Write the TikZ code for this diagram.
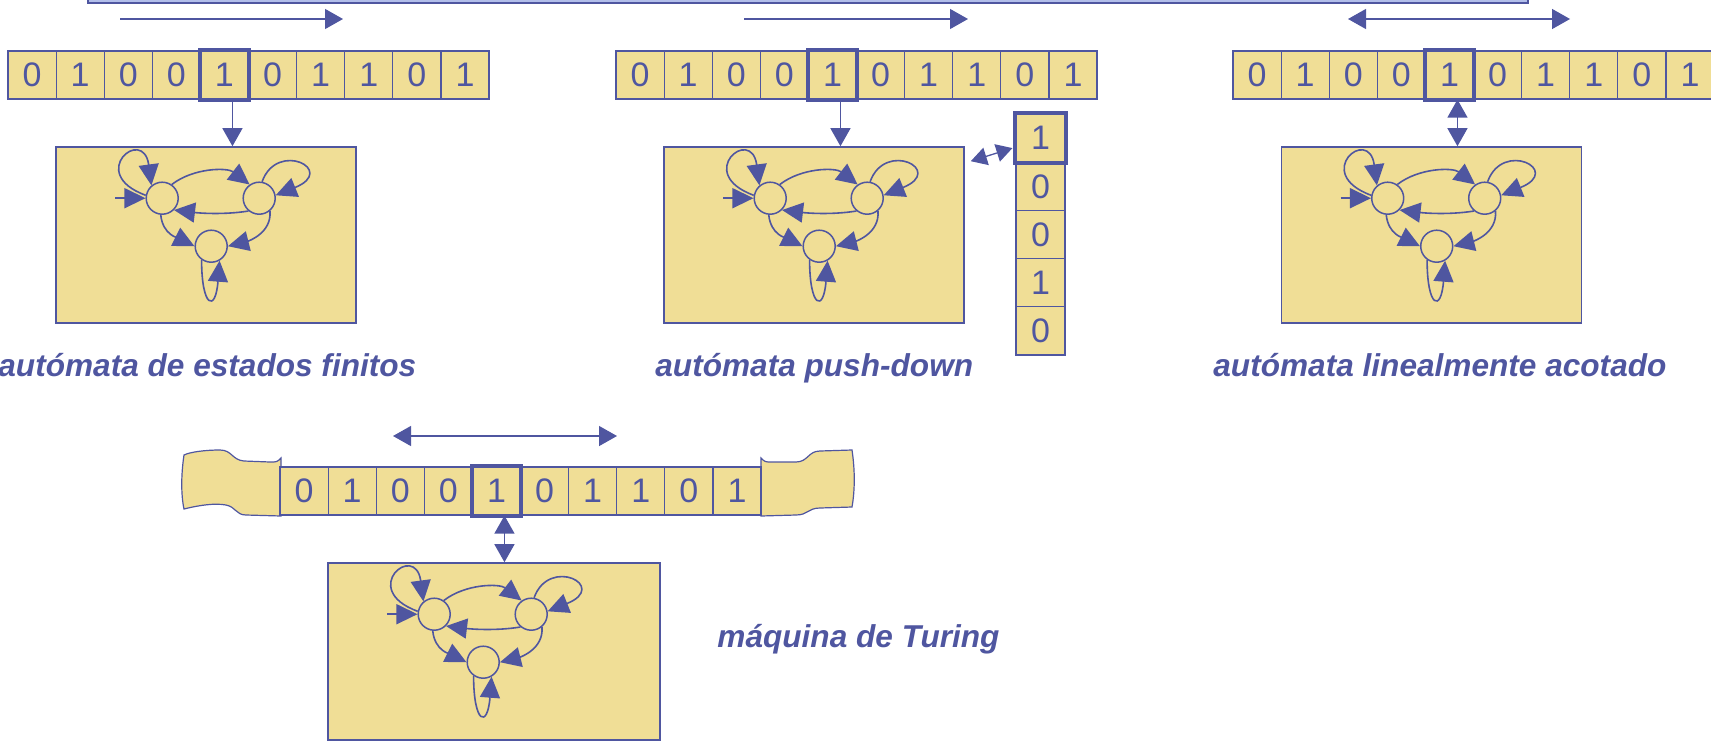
\documentclass[tikz,border=0pt]{standalone}
\usepackage{fontspec}
\setmainfont{Liberation Sans}
\usetikzlibrary{arrows.meta}

\definecolor{ink}{RGB}{79,86,160}
\definecolor{tapefill}{RGB}{240,222,150}
\definecolor{bandfill}{RGB}{178,190,234}

\tikzset{
  cell/.style={draw=ink, fill=tapefill, line width=0.6pt, minimum width=24.05pt, minimum height=24pt,
    inner sep=0pt, text=ink, font=\fontsize{17}{18}\selectfont},
  headbox/.style={draw=ink, line width=2pt},
  ctrl/.style={draw=ink, fill=tapefill, line width=0.8pt, minimum width=150pt, minimum height=88pt, inner sep=0pt},
  state/.style={circle, draw=ink, line width=0.75pt, minimum size=16pt, inner sep=0pt},
  tr/.style={draw=ink, line width=0.8pt, -{Triangle[length=10.5pt,width=10pt]}},
  move/.style={draw=ink, line width=0.65pt, -{Triangle[length=9pt,width=10pt]}},
  both/.style={draw=ink, line width=0.65pt, {Triangle[length=9pt,width=10pt]}-{Triangle[length=9pt,width=10pt]}},
  kind/.style={text=ink, anchor=base west, inner sep=0pt, font=\fontsize{15.8}{18}\bfseries\itshape\selectfont},
  % three states with their transitions, origin at the box corner
  automaton/.pic={
    \node[state] (-A) at (107,52) {};
    \node[state] (-B) at (204,52) {};
    \node[state] (-C) at (156,100) {};
    \coordinate (-in) at (60,52);
    \draw[tr] (-in) -- (-A);
    \draw[tr] (-A.170) .. controls +(-60,-22) and +(-8,-60) .. (-A.130);
    \draw[tr] (-B.80) .. controls +(15,-42) and +(62,-25) .. (-B.10);
    \draw[tr] (-A.55) .. controls +(22,-17) and +(-22,-17) .. (-B.125);
    \draw[tr] (-B.230) .. controls +(-25,4) and +(25,3) .. (-A.-45);
    \draw[tr] (-A.265) .. controls +(2,20) and +(-16,-8) .. (-C.180);
    \draw[tr] (-B.-50) .. controls +(2,22) and +(20,-5) .. (-C.0);
    \draw[tr] (-C.235) .. controls +(0,48) and +(-4,52) .. (-C.-60);
  }
}

% tape of ten cells: name, left x, centre y
\newcommand\drawtape[3]{%
  \foreach \b [count=\i] in {0,1,0,0,1,0,1,1,0,1}
    \node[cell] (#1-\i) at ({#2+48.1*(\i-0.5)},#3) {\b};
  \draw[headbox] (#1-5.south west) rectangle (#1-5.north east);
}

\begin{document}
\begin{tikzpicture}[x=0.5pt, y=-0.5pt]
  \useasboundingbox (0,0) rectangle (1711,744);
  \clip (0,0) rectangle (1711,744);

  \draw[ink, fill=bandfill, line width=0.6pt] (88,-20) rectangle (1528,3);

  % finite automaton
  \coordinate (m1a) at (120,19);
  \coordinate (m1b) at (343,19);
  \draw[move] (m1a) -- (m1b);
  \drawtape{t1}{8}{75}
  \node[ctrl] (fsm1) at (206,235) {};
  \pic (a1) at (fsm1.north west) {automaton};
  \draw[move] ([xshift=4pt]t1-5.south) -- ([xshift=4pt]t1-5.south |- fsm1.north);
  \node[kind] (l1) at (-2,376) {autómata de estados finitos};

  % push-down automaton with its stack
  \coordinate (m2a) at (744,19);
  \coordinate (m2b) at (968,19);
  \draw[move] (m2a) -- (m2b);
  \drawtape{t2}{616}{75}
  \node[ctrl] (fsm2) at (814,235) {};
  \pic (a2) at (fsm2.north west) {automaton};
  \draw[move] ([xshift=4pt]t2-5.south) -- ([xshift=4pt]t2-5.south |- fsm2.north);
  \foreach \b [count=\i] in {1,0,0,1,0}
    \node[cell, minimum width=24.5pt, minimum height=24.1pt] (s-\i) at (1040.5,{114+48.2*(\i-0.5)}) {\b};
  \draw[headbox] (s-1.south west) rectangle (s-1.north east);
  \draw[draw=ink, line width=0.65pt, {Triangle[length=8pt,width=9pt]}-{Triangle[length=8pt,width=9pt]}]
    ([xshift=3pt,yshift=-7.5pt]fsm2.north east) -- ([xshift=-1.5pt,yshift=-5pt]s-1.west);
  \node[kind] (l2) at (655,376) {autómata push-down};

  % linear bounded automaton
  \coordinate (m3a) at (1348,19);
  \coordinate (m3b) at (1570,19);
  \draw[both] (m3a) -- (m3b);
  \drawtape{t3}{1233}{75}
  \node[ctrl] (fsm3) at (1431.5,235) {};
  \pic (a3) at (fsm3.north west) {automaton};
  \draw[both] ([xshift=4pt]t3-5.south) -- ([xshift=4pt]t3-5.south |- fsm3.north);
  \node[kind] (l3) at (1213,376) {autómata linealmente acotado};

  % Turing machine, tape rolled up on both sides
  \coordinate (m4a) at (393,436);
  \coordinate (m4b) at (617,436);
  \draw[both] (m4a) -- (m4b);
  \draw[ink, fill=tapefill, line width=0.6pt] (281,458) .. controls (277,462) .. (270,462) -- (244,461)
    .. controls (232,460) and (232,450) .. (220,450) .. controls (205,450) and (190,452) .. (184,455)
    .. controls (181,475) and (181,495) .. (184,509) .. controls (200,505) and (215,503) .. (226,505)
    .. controls (236,507) and (236,515) .. (246,515) -- (281,516) -- cycle;
  \draw[ink, fill=tapefill, line width=0.6pt] (761,458) .. controls (765,462) .. (772,462) -- (796,462)
    .. controls (808,462) and (808,451) .. (820,451) -- (852,450)
    .. controls (855,470) and (855,490) .. (852,507) -- (820,508)
    .. controls (808,508) and (808,515) .. (796,515) -- (761,516) -- cycle;
  \drawtape{t4}{280}{491}
  \node[ctrl, minimum width=166pt, minimum height=88.5pt] (fsm4) at (494,651.5) {};
  \pic (a4) at (fsm4.north west) {automaton};
  \draw[both] ([xshift=4pt]t4-5.south) -- ([xshift=4pt]t4-5.south |- fsm4.north);
  \node[kind] (l4) at (717,647) {máquina de Turing};
\end{tikzpicture}
\end{document}
